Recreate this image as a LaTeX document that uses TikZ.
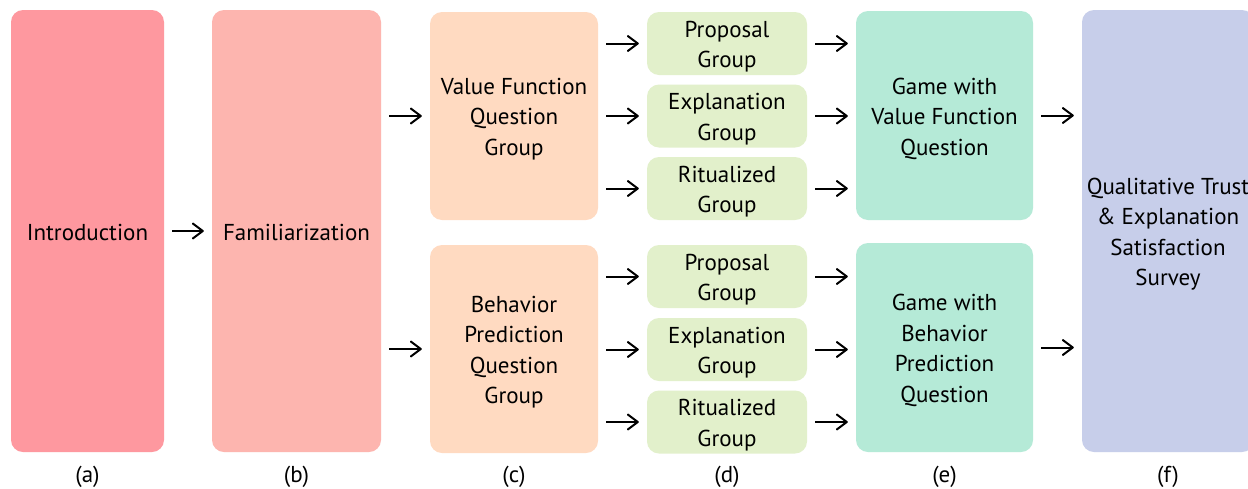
\documentclass[tikz,border=0pt]{standalone}
\usepackage{fontspec}
\setmainfont{PT Sans}
\usetikzlibrary{arrows.meta}
\definecolor{cIntro}{HTML}{FE989F}
\definecolor{cFam}{HTML}{FDB5AF}
\definecolor{cQuest}{HTML}{FFDAC1}
\definecolor{cGroup}{HTML}{E2F0CB}
\definecolor{cGame}{HTML}{B5EAD7}
\definecolor{cSurvey}{HTML}{C7CEEA}
\tikzset{
  stage/.style={rounded corners=12pt, inner sep=0pt},
  stagetext/.style={align=center, inner sep=0pt, yshift=-3pt,
    font=\fontsize{23}{30.5}\selectfont, text=black},
  caption/.style={font=\fontsize{23}{28}\selectfont, inner sep=0pt},
  arr/.style={line width=2pt,
    -{Straight Barb[length=10pt,width=15pt,line width=2pt,round]},
    shorten <=8pt, shorten >=8pt}
}
\begin{document}
\begin{tikzpicture}[x=1pt,y=-1pt]
\useasboundingbox (0,0) rectangle (1248,488);
\clip (0,0) rectangle (1248,488);
\fill[white] (0,0) rectangle (1248,488);

% column (a) and (b)
\node[stage, fill=cIntro, minimum width=153pt, minimum height=442pt] (intro) at (87.5,231) {};
\node[stagetext, yshift=2pt] (introT) at (intro) {Introduction};
\node[stage, fill=cFam, minimum width=169pt, minimum height=442pt] (fam) at (296.5,231) {};
\node[stagetext, yshift=2pt] (famT) at (fam) {Familiarization};

% column (c)
\node[stage, fill=cQuest, minimum width=168pt, minimum height=208pt] (vq) at (514,116) {};
\node[stagetext] (vqT) at (vq) {Value Function\\Question\\Group};
\node[stage, fill=cQuest, minimum width=168pt, minimum height=208pt] (bq) at (514,349) {};
\node[stagetext] (bqT) at (bq) {Behavior\\Prediction\\Question\\Group};

% column (d)
\node[stage, fill=cGroup, minimum width=160pt, minimum height=63pt] (vp) at (727,43.5) {};
\node[stagetext] (vpT) at (vp) {Proposal\\Group};
\node[stage, fill=cGroup, minimum width=160pt, minimum height=63pt] (ve) at (727,116) {};
\node[stagetext] (veT) at (ve) {Explanation\\Group};
\node[stage, fill=cGroup, minimum width=160pt, minimum height=63pt] (vr) at (727,188.5) {};
\node[stagetext] (vrT) at (vr) {Ritualized\\Group};
\node[stage, fill=cGroup, minimum width=160pt, minimum height=63pt] (bp) at (727,276.5) {};
\node[stagetext] (bpT) at (bp) {Proposal\\Group};
\node[stage, fill=cGroup, minimum width=160pt, minimum height=63pt] (be) at (727,349.5) {};
\node[stagetext] (beT) at (be) {Explanation\\Group};
\node[stage, fill=cGroup, minimum width=160pt, minimum height=63pt] (br) at (727,422) {};
\node[stagetext] (brT) at (br) {Ritualized\\Group};

% column (e)
\node[stage, fill=cGame, minimum width=177pt, minimum height=209pt] (vg) at (944.5,115.5) {};
\node[stagetext] (vgT) at (vg) {Game with\\Value Function\\Question};
\node[stage, fill=cGame, minimum width=177pt, minimum height=209pt] (bg) at (944.5,347.5) {};
\node[stagetext] (bgT) at (bg) {Game with\\Behavior\\Prediction\\Question};

% column (f)
\node[stage, fill=cSurvey, minimum width=172pt, minimum height=442pt] (survey) at (1168,231) {};
\node[stagetext] (surveyT) at (survey) {Qualitative Trust\\\& Explanation\\Satisfaction\\Survey};

% connectors
\draw[arr] (intro.east) -- (fam.west);
\draw[arr] (fam.east |- vq.west) -- (vq.west);
\draw[arr] (fam.east |- bq.west) -- (bq.west);
\foreach \g in {vp,ve,vr} {
  \draw[arr] (vq.east |- \g.west) -- (\g.west);
  \draw[arr] (\g.east) -- (vg.west |- \g.east);
}
\foreach \g in {bp,be,br} {
  \draw[arr] (bq.east |- \g.west) -- (\g.west);
  \draw[arr] (\g.east) -- (bg.west |- \g.east);
}
\draw[arr] (vg.east) -- (survey.west |- vg.east);
\draw[arr] (bg.east) -- (survey.west |- bg.east);

% column captions
\node[caption] (la) at (87.5,477) {(a)};
\node[caption] (lb) at (296.5,477) {(b)};
\node[caption] (lc) at (514,477) {(c)};
\node[caption] (ld) at (727,477) {(d)};
\node[caption] (le) at (944.5,477) {(e)};
\node[caption] (lf) at (1168,477) {(f)};
\end{tikzpicture}
\end{document}
